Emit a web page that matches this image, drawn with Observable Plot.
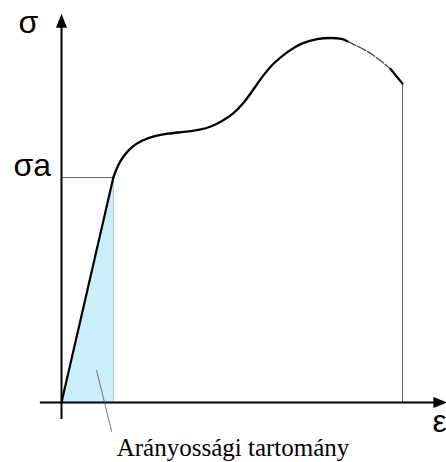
<!DOCTYPE html>
<html><head><meta charset="utf-8">
<script src="https://cdn.jsdelivr.net/npm/d3@7"></script>
<script src="https://cdn.jsdelivr.net/npm/@observablehq/plot@0.6"></script>
<style>body{margin:0;background:#fff}</style>
</head><body><div id="chart"></div>
<script>
// Proportional limit (σa) point
const limitStrain = 15.2;
const limitStress = 61.8;
// Fracture strain
const fractureStrain = 100;
// Stress–strain curve beyond the proportional limit
const strain = [15.2,16.4,18.2,20.5,23.5,27.0,31.1,35.8,40.8,44.0,47.0,50.4,53.5,56.3,59.2,62.2,66.3,70.1,75.1,78.9,82.4,83.9,87.7,90.6,93.5,96.5,100];
const stress = [61.8,65.0,67.8,70.2,72.0,73.2,73.9,74.3,74.9,75.8,77.2,79.3,82.3,86.0,90.0,93.3,96.4,98.7,100,100.2,100,99.2,97.5,96.0,94.0,91.6,87.6];
const dashStart = 21, dashEnd = 25;
// Axis extents
const xAxisExtent = [-6.2, 110];
const yAxisExtent = [-4.7, 103.6];
const arrowTips = [{e:0, s:104.9, rot:0}, {e:111.1, s:0, rot:90}];
// Labels
const labels = [
  {e:-12.6, s:101.4, t:"σ"},
  {e:-14.1, s:62.3, t:"σa"},
  {e:108.8, s:-8.2, t:"ε"}
];
const caption = {e:50.3, s:-14.8, t:"Arányossági tartomány"};
const leader = [{e:10.3, s:8.8}, {e:14.7, s:-7.9}];

const curve = strain.map((e,i)=>({e, s:stress[i], i}));
const solid1 = curve.filter(d=>d.i<=dashStart);
const dashed = curve.filter(d=>d.i>=dashStart && d.i<=dashEnd);
const solid2 = curve.filter(d=>d.i>=dashEnd);
const linear = [{e:0,s:0},{e:limitStrain,s:limitStress}];

const arrowSymbol = {draw(ctx){ ctx.moveTo(0,-7); ctx.lineTo(5.5,7); ctx.lineTo(-5.5,7); ctx.closePath(); }};

const chart = Plot.plot({
  width: 446, height: 462, margin: 0,
  style: {background:"#fff", overflow:"visible"},
  x: {domain:[0,100], range:[61,402], axis:null},
  y: {domain:[0,100], range:[402,38], axis:null},
  marks: [
    Plot.areaY(linear, {x:"e", y:"s", fill:"#cbeffa", curve:"linear"}),
    Plot.ruleX([limitStrain], {y1:0, y2:limitStress, stroke:"#9ab", strokeWidth:0.8}),
    Plot.ruleY([limitStress], {x1:0, x2:limitStrain, stroke:"#666", strokeWidth:1}),
    Plot.ruleX([fractureStrain], {y1:0, y2:stress[stress.length-1], stroke:"#666", strokeWidth:1}),
    Plot.ruleY([0], {x1:xAxisExtent[0], x2:xAxisExtent[1], stroke:"#000", strokeWidth:2}),
    Plot.ruleX([0], {y1:yAxisExtent[0], y2:yAxisExtent[1], stroke:"#000", strokeWidth:2}),
    Plot.dot(arrowTips, {x:"e", y:"s", rotate:"rot", symbol:arrowSymbol, fill:"#000", stroke:null}),
    Plot.line(linear, {x:"e", y:"s", stroke:"#000", strokeWidth:2.2}),
    Plot.line(solid1, {x:"e", y:"s", stroke:"#000", strokeWidth:2.3, curve:"basis"}),
    Plot.line(dashed, {x:"e", y:"s", stroke:"#444", strokeWidth:1.3, strokeDasharray:"9,2", curve:"basis"}),
    Plot.line(solid2, {x:"e", y:"s", stroke:"#000", strokeWidth:2.3, curve:"basis"}),
    Plot.line(leader, {x:"e", y:"s", stroke:"#555", strokeWidth:0.8}),
    Plot.text(labels, {x:"e", y:"s", text:"t", textAnchor:"start", lineAnchor:"bottom", fontSize:32, fontFamily:"Liberation Sans, Arial, sans-serif", fill:"#000"}),
    Plot.text([caption], {x:"e", y:"s", text:"t", textAnchor:"middle", lineAnchor:"bottom", fontSize:25, fontFamily:"Liberation Serif, Times New Roman, serif", fill:"#000"})
  ]
});
document.getElementById("chart").appendChild(chart);
</script></body></html>
